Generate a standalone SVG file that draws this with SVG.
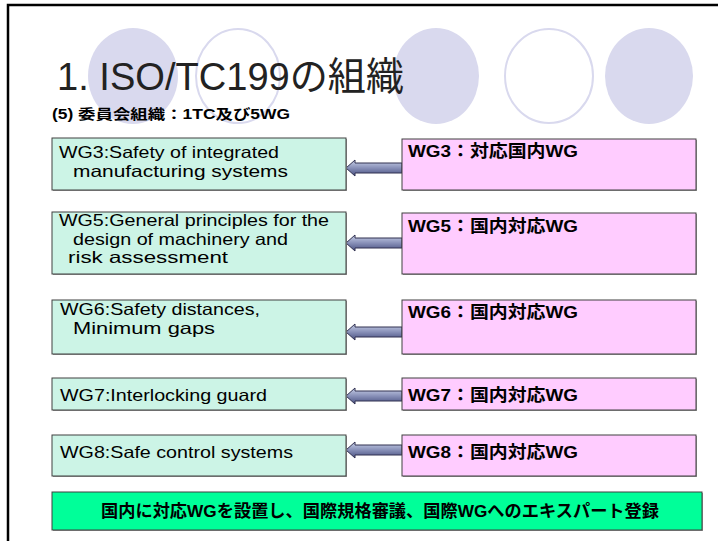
<svg xmlns="http://www.w3.org/2000/svg" width="718" height="541" viewBox="0 0 718 541">
<defs>
<linearGradient id="ag" x1="0" y1="0" x2="0" y2="1">
<stop offset="0" stop-color="#c8d0e8"/>
<stop offset="0.5" stop-color="#8890b8"/>
<stop offset="1" stop-color="#485080"/>
</linearGradient>
<style>
.lt{font-family:"Liberation Sans",Arial,sans-serif;font-size:16.5px;fill:#000}
.rt{font-family:"Liberation Sans","Noto Sans CJK JP",sans-serif;font-size:17px;font-weight:bold;fill:#000}
.lb{fill:#ccf4e6;stroke:#404040;stroke-width:1}
.rb{fill:#ffccff;stroke:#404040;stroke-width:1}
.sh{fill:#9a9a9a}
.arr{fill:url(#ag);stroke:#303050;stroke-width:1}
.cf{fill:#d9d9ee}
.co{fill:none;stroke:#d9d9ee;stroke-width:2}
</style>
</defs>
<rect width="718" height="541" fill="#fff"/>
<path d="M8,541 V5 H718" fill="none" stroke="#000" stroke-width="2.5"/>
<g id="decor">
<ellipse class="cf" cx="133" cy="76" rx="45" ry="48"/>
<ellipse class="co" cx="238" cy="76" rx="42" ry="47"/>
<ellipse class="cf" cx="436" cy="76" rx="43" ry="48"/>
<ellipse class="co" cx="549" cy="76" rx="44" ry="47"/>
<ellipse class="cf" cx="649" cy="76" rx="44" ry="48"/>
</g>
<text id="title" x="57" y="90" font-family="'Liberation Sans','Noto Sans CJK JP',sans-serif" font-size="39" fill="#222" textLength="347" lengthAdjust="spacingAndGlyphs">1. ISO/TC199の組織</text>
<text id="subtitle" x="52" y="119" font-family="'Liberation Sans','Noto Sans CJK JP',sans-serif" font-size="14" font-weight="bold" textLength="238" lengthAdjust="spacingAndGlyphs">(5)  委員会組織：1TC及び5WG</text>
<g id="connectors">
<path class="arr" d="M346,168 L355,160 V163 H402 V173 H355 V176 Z"/>
<path class="arr" d="M346,243 L355,235 V238 H402 V248 H355 V251 Z"/>
<path class="arr" d="M346,332 L355,324 V327 H402 V337 H355 V340 Z"/>
<path class="arr" d="M346,396 L355,388 V391 H402 V401 H355 V404 Z"/>
<path class="arr" d="M346,450 L355,442 V445 H402 V455 H355 V458 Z"/>
</g>
<g id="wg3">
<rect class="sh" x="53" y="139" width="294" height="52"/>
<rect class="lb" x="52" y="138" width="294" height="52"/>
<text class="lt" x="59" y="158" textLength="220" lengthAdjust="spacingAndGlyphs">WG3:Safety of integrated</text>
<text class="lt" x="73" y="177" textLength="215" lengthAdjust="spacingAndGlyphs">manufacturing systems</text>
</g>
<g id="wg3jp">
<rect class="sh" x="403" y="140" width="294" height="51"/>
<rect class="rb" x="402" y="139" width="294" height="51"/>
<text class="rt" x="408" y="157" textLength="170" lengthAdjust="spacingAndGlyphs">WG3：対応国内WG</text>
</g>
<g id="wg5">
<rect class="sh" x="53" y="213" width="294" height="62"/>
<rect class="lb" x="52" y="212" width="294" height="62"/>
<text class="lt" x="59" y="226" textLength="270" lengthAdjust="spacingAndGlyphs">WG5:General principles for the</text>
<text class="lt" x="73" y="244.5" textLength="215" lengthAdjust="spacingAndGlyphs">design of machinery and</text>
<text class="lt" x="68" y="263" textLength="160" lengthAdjust="spacingAndGlyphs">risk assessment</text>
</g>
<g id="wg5jp">
<rect class="sh" x="403" y="214" width="294" height="61"/>
<rect class="rb" x="402" y="213" width="294" height="61"/>
<text class="rt" x="408" y="232" textLength="170" lengthAdjust="spacingAndGlyphs">WG5：国内対応WG</text>
</g>
<g id="wg6">
<rect class="sh" x="53" y="301" width="294" height="54"/>
<rect class="lb" x="52" y="300" width="294" height="54"/>
<text class="lt" x="60" y="315" textLength="200" lengthAdjust="spacingAndGlyphs">WG6:Safety distances,</text>
<text class="lt" x="73" y="333.5" textLength="142" lengthAdjust="spacingAndGlyphs">Minimum gaps</text>
</g>
<g id="wg6jp">
<rect class="sh" x="403" y="301" width="294" height="54"/>
<rect class="rb" x="402" y="300" width="294" height="54"/>
<text class="rt" x="408" y="318" textLength="170" lengthAdjust="spacingAndGlyphs">WG6：国内対応WG</text>
</g>
<g id="wg7">
<rect class="sh" x="53" y="379" width="294" height="32"/>
<rect class="lb" x="52" y="378" width="294" height="32"/>
<text class="lt" x="60" y="401" textLength="207" lengthAdjust="spacingAndGlyphs">WG7:Interlocking guard</text>
</g>
<g id="wg7jp">
<rect class="sh" x="403" y="379" width="294" height="32"/>
<rect class="rb" x="402" y="378" width="294" height="32"/>
<text class="rt" x="408" y="401" textLength="170" lengthAdjust="spacingAndGlyphs">WG7：国内対応WG</text>
</g>
<g id="wg8">
<rect class="sh" x="53" y="436" width="294" height="41"/>
<rect class="lb" x="52" y="435" width="294" height="41"/>
<text class="lt" x="60" y="458" textLength="233" lengthAdjust="spacingAndGlyphs">WG8:Safe control systems</text>
</g>
<g id="wg8jp">
<rect class="sh" x="403" y="436" width="294" height="41"/>
<rect class="rb" x="402" y="435" width="294" height="41"/>
<text class="rt" x="408" y="458" textLength="170" lengthAdjust="spacingAndGlyphs">WG8：国内対応WG</text>
</g>
<g id="note">
<rect class="sh" x="53" y="493" width="650" height="38"/>
<rect x="52" y="492" width="650" height="38" fill="#00ff99" stroke="#404040" stroke-width="1"/>
<text x="101" y="517" font-family="'Liberation Sans','Noto Sans CJK JP',sans-serif" font-size="17" font-weight="bold" textLength="558" lengthAdjust="spacingAndGlyphs">国内に対応WGを設置し、国際規格審議、国際WGへのエキスパート登録</text>
</g>
</svg>
